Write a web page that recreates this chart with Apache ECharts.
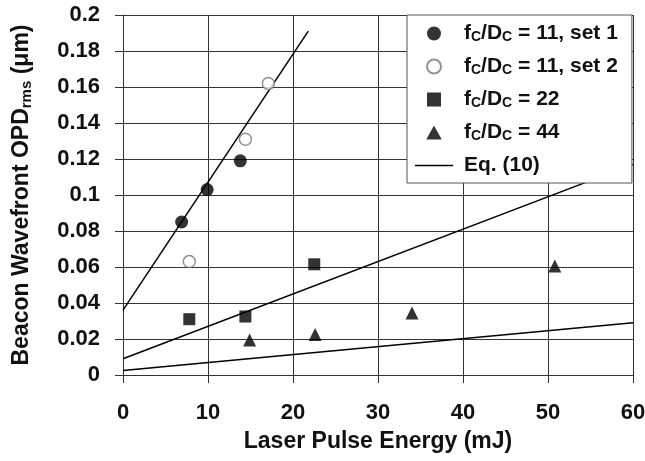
<!DOCTYPE html>
<html>
<head>
<meta charset="utf-8">
<script src="https://cdn.jsdelivr.net/npm/echarts@6/dist/echarts.min.js"></script>
<style>
  html, body { margin: 0; padding: 0; background: #fff; }
  #chart { width: 645px; height: 461px; }
</style>
</head>
<body>
<div id="chart"></div>
<script>
// values, [energy mJ, OPD um]
var set1 = [[6.9, 0.085], [9.9, 0.103], [13.8, 0.119]]
var set2 = [[7.8, 0.063], [14.4, 0.131], [17.1, 0.162]]
var ratio22 = [[7.8, 0.031], [14.4, 0.0325], [22.5, 0.0615]]
var ratio44 = [[14.9, 0.0195], [22.6, 0.0225], [34.0, 0.0345], [50.8, 0.0605]]
// Eq. (10) curves, end points
var eq11 = [[0, 0.036], [21.8, 0.191]]
var eq22 = [[0, 0.009], [60, 0.117]]
var eq44 = [[0, 0.0025], [60, 0.029]]

var names = ['fC/DC = 11, set 1', 'fC/DC = 11, set 2', 'fC/DC = 22', 'fC/DC = 44', 'Eq. (10)']

var font = 'Liberation Sans, Arial, sans-serif'

function lineSeries (data) {
  return {
    name: names[4],
    type: 'line',
    data: data,
    symbol: 'none',
    z: 1,
    itemStyle: { color: '#000' },
    lineStyle: { color: '#000', width: 1.5 }
  }
}

var chart = echarts.init(document.getElementById('chart'))

chart.setOption({
  animation: false,
  backgroundColor: '#fff',
  grid: { left: 123, right: 12, top: 15, bottom: 86, outerBoundsMode: 'none', containLabel: false },
  xAxis: {
    type: 'value',
    min: 0, max: 60, interval: 10,
    name: 'Laser Pulse Energy (mJ)',
    nameLocation: 'middle',
    nameGap: 55,
    nameTextStyle: { fontFamily: font, fontWeight: 'bold', fontSize: 23, color: '#111' },
    axisLine: { show: true, lineStyle: { color: '#333', width: 1 } },
    axisTick: { show: true, length: 8, lineStyle: { color: '#333' } },
    axisLabel: { fontFamily: font, fontWeight: 'bold', fontSize: 22, color: '#111', margin: 27 },
    splitLine: { show: true, lineStyle: { color: '#333', width: 1 } }
  },
  yAxis: {
    type: 'value',
    min: 0, max: 0.2, interval: 0.02,
    name: 'Beacon Wavefront OPD{sub|rms} (\u03bcm)',
    nameLocation: 'middle',
    nameGap: 89,
    nameTextStyle: {
      fontFamily: font, fontWeight: 'bold', fontSize: 23, color: '#111',
      rich: {
        sub: { fontFamily: font, fontWeight: 'bold', fontSize: 15, color: '#111', verticalAlign: 'bottom', padding: [9, 0, 0, 0] }
      }
    },
    axisLine: { show: true, lineStyle: { color: '#333', width: 1 } },
    axisTick: { show: true, length: 8, lineStyle: { color: '#333' } },
    axisLabel: { fontFamily: font, fontWeight: 'bold', fontSize: 22, color: '#111', margin: 23 },
    splitLine: { show: true, lineStyle: { color: '#333', width: 1 } }
  },
  legend: {
    orient: 'vertical',
    left: 407,
    top: 15,
    padding: [8, 14, 7, 8],
    backgroundColor: '#fff',
    borderColor: '#555',
    borderWidth: 1,
    itemWidth: 38,
    itemHeight: 14,
    itemGap: 11.5,
    symbolKeepAspect: true,
    data: [
      { name: names[0] },
      { name: names[1] },
      { name: names[2], icon: 'path://M0,0 L10,0 L10,10 L0,10 Z' },
      { name: names[3], icon: 'path://M5,0 L10,9 L0,9 Z' },
      { name: names[4], icon: 'path://M0,0 L38,0 L38,1.6 L0,1.6 Z', itemStyle: { color: '#000' } }
    ],
    formatter: function (name) {
      return name.replace(/fC\/DC/, 'f{s|C}/D{s|C}')
    },
    textStyle: {
      fontFamily: font, fontWeight: 'bold', fontSize: 21, color: '#111',
      padding: [0, 0, 0, 6],
      rich: {
        s: { fontFamily: font, fontWeight: 'bold', fontSize: 14, color: '#111', verticalAlign: 'bottom', padding: [8, 0, 0, 0] }
      }
    }
  },
  series: [
    {
      name: names[0], type: 'scatter', data: set1,
      symbol: 'circle', symbolSize: 13, z: 3,
      itemStyle: { color: '#000' }
    },
    {
      name: names[1], type: 'scatter', data: set2,
      symbol: 'circle', symbolSize: 12, z: 3,
      itemStyle: { color: '#fff', borderColor: '#777', borderWidth: 1.5 }
    },
    {
      name: names[2], type: 'scatter', data: ratio22,
      symbol: 'rect', symbolSize: 12, z: 3,
      itemStyle: { color: '#000' }
    },
    {
      name: names[3], type: 'scatter', data: ratio44,
      symbol: 'triangle', symbolSize: 13, z: 3,
      itemStyle: { color: '#000' }
    },
    lineSeries(eq11),
    lineSeries(eq22),
    lineSeries(eq44)
  ]
})
</script>
</body>
</html>
